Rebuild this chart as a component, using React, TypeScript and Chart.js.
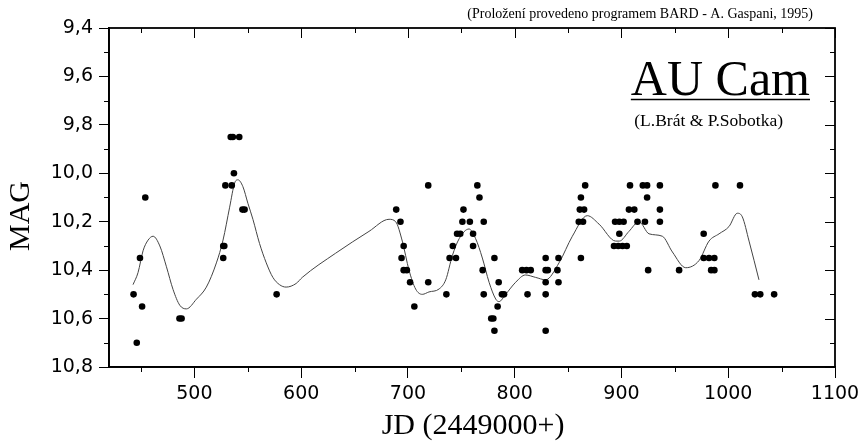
import React, { useEffect, useRef } from "react";
import { Chart, registerables } from "chart.js";

Chart.register(...registerables);

// Observations: JD (2449000+) and magnitude
const obsJD = [
  443, 446, 449, 451, 454, 486, 488, 527, 528, 527, 529, 535, 537, 534, 536, 542, 545, 547, 577,
  689, 693, 696, 694, 696, 699, 702, 706, 719, 719, 736, 739, 745, 742, 746, 749, 752, 751, 758,
  761, 761, 765, 767, 771, 770, 771, 781, 785, 788, 790, 784, 778, 780, 781,
  807, 811, 815, 812, 829, 829, 829, 829, 829, 841, 831, 840, 841,
  862, 860, 864, 861, 865, 862, 866, 894, 898, 902, 898, 893, 897, 901, 905,
  908, 907, 912, 915, 922, 920, 924, 924, 925, 936, 936, 936, 954,
  977, 977, 982, 987, 984, 987, 988, 1011, 1025, 1030, 1043,
];
const obsMag = [
  10.5, 10.7, 10.35, 10.55, 10.1, 10.6, 10.6, 10.3, 10.3, 10.35, 10.05, 10.05, 10.0, 9.85, 9.85, 9.85, 10.15, 10.15, 10.5,
  10.15, 10.2, 10.3, 10.35, 10.4, 10.4, 10.45, 10.55, 10.05, 10.45, 10.5, 10.35, 10.35, 10.3, 10.25, 10.25, 10.15, 10.2, 10.2,
  10.25, 10.3, 10.05, 10.1, 10.2, 10.4, 10.5, 10.35, 10.45, 10.5, 10.5, 10.55, 10.6, 10.6, 10.65,
  10.4, 10.4, 10.4, 10.5, 10.35, 10.4, 10.45, 10.5, 10.65, 10.35, 10.4, 10.4, 10.45,
  10.35, 10.2, 10.2, 10.15, 10.15, 10.1, 10.05, 10.2, 10.2, 10.2, 10.25, 10.3, 10.3, 10.3, 10.3,
  10.05, 10.15, 10.15, 10.2, 10.2, 10.05, 10.05, 10.1, 10.4, 10.05, 10.15, 10.2, 10.4,
  10.25, 10.35, 10.35, 10.35, 10.4, 10.4, 10.05, 10.05, 10.5, 10.5, 10.5,
];

// BARD fit curve
const fitJD = [
  442.5, 447.2, 451.9, 456.6, 461.3, 467.6, 473.8, 480, 486.3, 492.5, 501.9, 511.2, 520.6, 526.8, 533,
  537.7, 540.8, 545.4, 550.1, 554.8, 561, 567.3, 573.5, 579.7, 585.9, 595.3, 601, 632.3, 663.5, 682.3,
  688.5, 694.7, 701, 707.2, 713.4, 719.7, 729.1, 735.4, 741.6, 748, 757.2, 763.4, 769.7, 776, 782.3,
  785.3, 791.5, 800.9, 810, 819.6, 829, 841.5, 854, 868, 879, 894.6, 898, 907, 916.4, 925.8, 938.3,
  947.7, 960.2, 972.7, 982, 991.4, 1000.7, 1008.5, 1013.2, 1019.5, 1028.8,
];
const fitMag = [
  10.46, 10.41, 10.32, 10.276, 10.26, 10.3, 10.386, 10.48, 10.545, 10.56, 10.52, 10.47, 10.37, 10.276, 10.14,
  10.04, 10.027, 10.055, 10.124, 10.19, 10.29, 10.37, 10.43, 10.46, 10.47, 10.455, 10.43, 10.33, 10.24, 10.19,
  10.2, 10.28, 10.4, 10.478, 10.5, 10.49, 10.478, 10.44, 10.34, 10.27, 10.23, 10.27, 10.35, 10.45, 10.52,
  10.53, 10.5, 10.45, 10.42, 10.43, 10.44, 10.37, 10.26, 10.175, 10.21, 10.28, 10.28, 10.24, 10.2, 10.25, 10.26,
  10.325, 10.39, 10.36, 10.28, 10.25, 10.22, 10.165, 10.18, 10.28, 10.44,
];

const xMajorTicks = [500, 600, 700, 800, 900, 1000, 1100];
const xMinorTicks = [450, 550, 650, 750, 850, 950, 1050];
const yMajorTicks = [9.4, 9.6, 9.8, 10.0, 10.2, 10.4, 10.6, 10.8];
const yMinorTicks = [9.5, 9.7, 9.9, 10.1, 10.3, 10.5, 10.7];

const titleText = "AU Cam";
const authorsText = "(L.Brát & P.Sobotka)";
const creditText = "(Proložení provedeno programem BARD - A. Gaspani, 1995)";
const xTitle = "JD (2449000+)";
const yTitle = "MAG";

const W = 863;
const H = 443;

const decorPlugin = {
  id: "decor",
  afterDraw(chart: any) {
    const { ctx, chartArea } = chart;
    const { left, right, top, bottom } = chartArea;
    const xs = chart.scales.x;
    const ys = chart.scales.y;
    ctx.save();
    ctx.strokeStyle = "#000";
    ctx.lineWidth = 1.8;
    ctx.strokeRect(left, top, right - left, bottom - top);
    ctx.lineWidth = 1;
    ctx.beginPath();
    for (const v of xMajorTicks) {
      const px = Math.round(xs.getPixelForValue(v)) + 0.5;
      ctx.moveTo(px, top);
      ctx.lineTo(px, top + 10);
    }
    for (const v of xMinorTicks) {
      const px = Math.round(xs.getPixelForValue(v)) + 0.5;
      ctx.moveTo(px, top);
      ctx.lineTo(px, top + 5);
      ctx.moveTo(px, bottom);
      ctx.lineTo(px, bottom + 5);
    }
    for (const v of yMajorTicks) {
      const py = Math.round(ys.getPixelForValue(v)) + 0.5;
      ctx.moveTo(right, py);
      ctx.lineTo(right - 10, py);
    }
    for (const v of yMinorTicks) {
      const py = Math.round(ys.getPixelForValue(v)) + 0.5;
      ctx.moveTo(left, py);
      ctx.lineTo(left - 5, py);
      ctx.moveTo(right, py);
      ctx.lineTo(right - 5, py);
    }
    ctx.stroke();

    ctx.fillStyle = "#000";
    // credit line
    ctx.font = "14px 'Liberation Serif', 'Times New Roman', serif";
    ctx.textAlign = "right";
    ctx.textBaseline = "middle";
    ctx.fillText(creditText, 813, 14);

    // AU Cam title
    ctx.font = "50px 'Liberation Serif', 'Times New Roman', serif";
    ctx.textBaseline = "alphabetic";
    ctx.textAlign = "right";
    ctx.fillText(titleText, 810, 95);
    const tw = ctx.measureText(titleText).width;
    ctx.lineWidth = 1.5;
    ctx.beginPath();
    ctx.moveTo(810 - tw, 99.5);
    ctx.lineTo(810, 99.5);
    ctx.stroke();

    ctx.font = "17.5px 'Liberation Serif', 'Times New Roman', serif";
    ctx.textBaseline = "middle";
    ctx.fillText(authorsText, 783, 121);

    // axis titles
    ctx.font = "30px 'Liberation Serif', 'Times New Roman', serif";
    ctx.textAlign = "center";
    ctx.textBaseline = "middle";
    ctx.fillText(xTitle, 473, 426);
    ctx.save();
    ctx.translate(21, 216);
    ctx.rotate(-Math.PI / 2);
    ctx.fillText(yTitle, 0, 0);
    ctx.restore();

    ctx.restore();
  },
};

export default function App() {
  const ref = useRef<HTMLCanvasElement | null>(null);
  useEffect(() => {
    const canvas = ref.current;
    if (!canvas) return;
    const points = obsJD.map((x, i) => ({ x, y: obsMag[i] }));
    const fit = fitJD.map((x, i) => ({ x, y: fitMag[i] }));
    const tickFont = { family: "'DejaVu Sans', sans-serif", size: 19 };
    const chart = new Chart(canvas, {
      type: "scatter",
      data: {
        datasets: [
          {
            label: "fit",
            data: fit,
            showLine: true,
            borderColor: "#444",
            borderWidth: 1,
            pointRadius: 0,
            cubicInterpolationMode: "monotone",
            order: 2,
          } as any,
          {
            label: "obs",
            data: points,
            pointRadius: 3.3,
            pointBackgroundColor: "#000",
            pointBorderWidth: 0,
            backgroundColor: "#000",
            order: 1,
          },
        ],
      },
      options: {
        responsive: false,
        animation: false,
        devicePixelRatio: 1,
        layout: { padding: { left: 0, top: 28, right: 28, bottom: 0 } },
        plugins: { legend: { display: false }, tooltip: { enabled: false }, title: { display: false } },
        scales: {
          x: {
            type: "linear",
            min: 420,
            max: 1100,
            afterFit: (s: any) => {
              s.height = 76;
              s.paddingLeft = 0;
              s.paddingRight = 0;
            },
            afterBuildTicks: (s: any) => {
              s.ticks = xMajorTicks.map((v) => ({ value: v }));
            },
            ticks: {
              font: tickFont,
              color: "#000",
              padding: 5,
              maxRotation: 0,
              autoSkip: false,
              callback: (v: any) => String(v),
            },
            grid: { display: true, drawOnChartArea: false, drawTicks: true, tickLength: 11, color: "#000", lineWidth: 1 },
            border: { display: true, color: "#000", width: 1.8 },
          },
          y: {
            type: "linear",
            reverse: true,
            min: 9.4,
            max: 10.8,
            afterFit: (s: any) => {
              s.width = 109;
              s.paddingTop = 0;
              s.paddingBottom = 0;
            },
            afterBuildTicks: (s: any) => {
              s.ticks = yMajorTicks.map((v) => ({ value: v }));
            },
            ticks: {
              font: tickFont,
              color: "#000",
              padding: 6,
              autoSkip: false,
              callback: (v: any) => Number(v).toFixed(1).replace(".", ","),
            },
            grid: { display: true, drawOnChartArea: false, drawTicks: true, tickLength: 10, color: "#000", lineWidth: 1 },
            border: { display: true, color: "#000", width: 1.8 },
          },
        },
      },
      plugins: [decorPlugin],
    });
    return () => chart.destroy();
  }, []);
  return (
    <div style={{ position: "fixed", left: 0, top: 0, width: W, height: H, background: "#fff" }}>
      <canvas ref={ref} width={W} height={H} style={{ width: W, height: H, display: "block" }} />
    </div>
  );
}
